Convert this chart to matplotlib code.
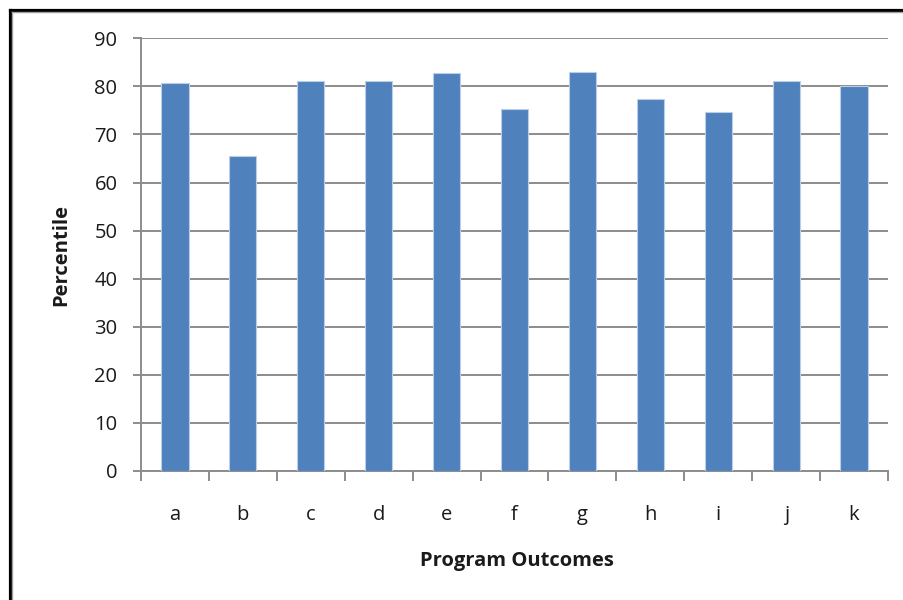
import matplotlib
matplotlib.use("Agg")
import matplotlib.pyplot as plt
from matplotlib.lines import Line2D
import numpy as np

outcomes = ["a", "b", "c", "d", "e", "f", "g", "h", "i", "j", "k"]
percentile = [80.7, 65.5, 81.1, 81.1, 82.7, 75.2, 83.0, 77.4, 74.7, 81.1, 80.0]
y_ticks = [0, 10, 20, 30, 40, 50, 60, 70, 80, 90]

plt.rcParams["font.family"] = ["Open Sans", "DejaVu Sans"]

W, H = 904, 600
fig = plt.figure(figsize=(W / 100, H / 100), dpi=100)
fig.patch.set_facecolor("white")

ax = fig.add_axes([141 / W, 1 - 471 / H, (888 - 141) / W, (471 - 38.3) / H])

bar_color = "#4F81BD"
grid_color = "#8C8C8C"
text_color = "#1a1a1a"

x = np.arange(len(outcomes))
ax.bar(x, percentile, width=0.4, color=bar_color, edgecolor="#BCCEE6",
       linewidth=0.8, zorder=3)

ax.set_xlim(-0.5, len(outcomes) - 0.5)
ax.set_ylim(0, 90)
ax.set_yticks(y_ticks)
ax.set_yticklabels([str(v) for v in y_ticks])
ax.yaxis.grid(True, color=grid_color, linewidth=1.4, zorder=0)
ax.set_axisbelow(True)

for side in ("top", "right"):
    ax.spines[side].set_visible(False)
for side in ("left", "bottom"):
    ax.spines[side].set_color(grid_color)
    ax.spines[side].set_linewidth(1.4)

ax.tick_params(axis="y", length=6, width=1.4, color=grid_color, pad=11,
               labelsize=14.5, labelcolor=text_color)

# category labels centred on bars, tick marks on the category boundaries
ax.set_xticks(x)
ax.set_xticklabels(outcomes)
ax.tick_params(axis="x", which="major", length=0, pad=24.5, labelsize=14.5,
               labelcolor=text_color)
ax.set_xticks(np.arange(-0.5, len(outcomes)), minor=True)
ax.tick_params(axis="x", which="minor", length=7.2, width=1.4, color=grid_color)

fig.text(517 / W, 1 - 561 / H, "Program Outcomes", ha="center", va="center",
         fontsize=14.5, fontweight="bold", color=text_color)
fig.text(61 / W, 1 - 255 / H, "Percentile", ha="center", va="center",
         rotation=90, fontsize=14.5, fontweight="bold", color=text_color)

# outer frame along the top and left edges
fig.add_artist(Line2D([9.5 / W, 9.5 / W], [0, 1 - 9.5 / H], transform=fig.transFigure,
                      color="black", linewidth=2.3))
fig.add_artist(Line2D([9.5 / W, 1], [1 - 9.5 / H, 1 - 9.5 / H], transform=fig.transFigure,
                      color="black", linewidth=2.3))
fig.add_artist(Line2D([11.8 / W, 11.8 / W], [0, 1 - 11.8 / H], transform=fig.transFigure,
                      color="#A0A0A0", linewidth=1.0))
fig.add_artist(Line2D([11.8 / W, 1], [1 - 11.8 / H, 1 - 11.8 / H], transform=fig.transFigure,
                      color="#A0A0A0", linewidth=1.0))

fig.savefig("out.png", dpi=100, facecolor="white")
